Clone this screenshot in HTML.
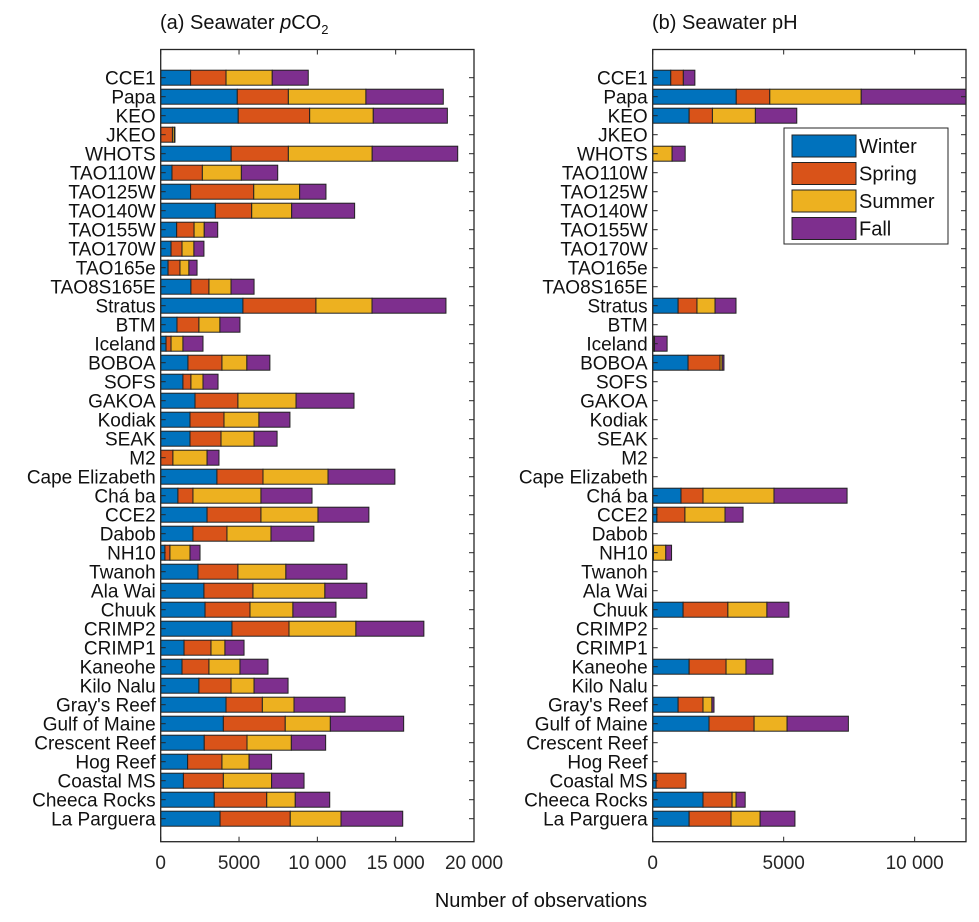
<!DOCTYPE html>
<html><head><meta charset="utf-8"><style>
body{margin:0;background:#fff;}
svg{display:block;font-family:"Liberation Sans",Arial,sans-serif;}
</style></head><body>
<svg id="chart" width="979" height="922" viewBox="0 0 979 922"></svg>
<script>
const categories=["CCE1","Papa","KEO","JKEO","WHOTS","TAO110W","TAO125W","TAO140W","TAO155W","TAO170W","TAO165e","TAO8S165E","Stratus","BTM","Iceland","BOBOA","SOFS","GAKOA","Kodiak","SEAK","M2","Cape Elizabeth","Chá ba","CCE2","Dabob","NH10","Twanoh","Ala Wai","Chuuk","CRIMP2","CRIMP1","Kaneohe","Kilo Nalu","Gray's Reef","Gulf of Maine","Crescent Reef","Hog Reef","Coastal MS","Cheeca Rocks","La Parguera"];
const seasons=["Winter","Spring","Summer","Fall"];
// cumulative ends (thousands) for pCO2
const pco2Cum=[[1.91,4.17,7.12,9.42],[4.89,8.15,13.1,18.04],[4.95,9.51,13.57,18.3],[0,0.75,0.87,0.91],[4.5,8.15,13.5,18.96],[0.72,2.66,5.15,7.47],[1.91,5.94,8.87,10.55],[3.49,5.81,8.36,12.38],[1.02,2.13,2.78,3.64],[0.66,1.36,2.12,2.76],[0.47,1.23,1.8,2.32],[1.93,3.08,4.49,5.96],[5.25,9.91,13.49,18.21],[1.04,2.44,3.78,5.06],[0.34,0.66,1.42,2.7],[1.74,3.91,5.5,6.97],[1.42,1.93,2.7,3.66],[2.19,4.93,8.64,12.34],[1.87,4.04,6.27,8.25],[1.87,3.85,5.96,7.43],[0,0.78,2.96,3.72],[3.59,6.53,10.68,14.95],[1.1,2.06,6.4,9.66],[2.96,6.4,10.04,13.29],[2.06,4.23,7.04,9.78],[0.27,0.59,1.87,2.51],[2.38,4.93,7.99,11.89],[2.76,5.89,10.48,13.16],[2.83,5.7,8.44,11.19],[4.55,8.19,12.46,16.8],[1.49,3.21,4.1,5.32],[1.36,3.08,5.06,6.85],[2.44,4.49,5.96,8.13],[4.17,6.49,8.51,11.77],[4.0,7.95,10.83,15.51],[2.78,5.51,8.34,10.53],[1.72,3.91,5.64,7.08],[1.45,4.0,7.08,9.15],[3.42,6.77,8.59,10.79],[3.79,8.27,11.51,15.45]];
const phCum=[[0.69,1.17,1.17,1.61],[3.19,4.47,7.96,12.3],[1.39,2.28,3.92,5.5],[0,0,0,0],[0,0,0.74,1.24],[0,0,0,0],[0,0,0,0],[0,0,0,0],[0,0,0,0],[0,0,0,0],[0,0,0,0],[0,0,0,0],[0.97,1.69,2.38,3.18],[0,0,0,0],[0,0.05,0.07,0.55],[1.35,2.57,2.65,2.72],[0,0,0,0],[0,0,0,0],[0,0,0,0],[0,0,0,0],[0,0,0,0],[0,0,0,0],[1.08,1.92,4.63,7.42],[0.16,1.23,2.76,3.45],[0,0,0,0],[0,0.03,0.5,0.72],[0,0,0,0],[0,0,0,0],[1.16,2.87,4.36,5.2],[0,0,0,0],[0,0,0,0],[1.39,2.8,3.56,4.59],[0,0,0,0],[0.97,1.92,2.26,2.34],[2.15,3.87,5.13,7.47],[0,0,0,0],[0,0,0,0],[0.13,1.27,1.27,1.27],[1.92,3.03,3.18,3.53],[1.39,2.99,4.1,5.43]];
const pco2Ticks=[0,5000,10000,15000,20000];
const pco2TickLabels=["0","5000","10 000","15 000","20 000"];
const phTicks=[0,5000,10000];
const phTickLabels=["0","5000","10 000"];
const colors=["#0072BD","#D95319","#EDB120","#7E2F8E"];
const NS="http://www.w3.org/2000/svg";
const svg=document.getElementById('chart');
function mk(tag,attrs,parent){const e=document.createElementNS(NS,tag);for(const k in attrs)e.setAttribute(k,attrs[k]);(parent||svg).appendChild(e);return e;}
const plotTop=49.5,plotBot=841.7,rowY0=77.7,rowStep=19.0,barH=15;
function yScale(i){return rowY0+i*rowStep;}
function panel(name,x0,x1,max,cum,ticks,tlabels){
  const g=mk('g',{});
  
  
  const xs=v=>x0+(v/max)*(x1-x0);
  const clip=mk('clipPath',{id:'c'+name},g);mk('rect',{x:x0,y:plotTop,width:x1-x0,height:plotBot-plotTop},clip);
  const bars=mk('g',{'clip-path':'url(#c'+name+')'},g);
  categories.forEach((c,i)=>{
    let prev=0;
    for(let s=0;s<4;s++){
      const v=cum[i][s]*1000;
      if(v>prev){
        const r=mk('rect',{x:xs(prev),y:yScale(i)-barH/2,width:xs(v)-xs(prev),height:barH,fill:colors[s],stroke:'#222','stroke-width':1},bars);
        
        
      }
      prev=Math.max(prev,v);
    }
    mk('line',{x1:x0,x2:x0+5,y1:yScale(i),y2:yScale(i),stroke:'#262626'},g);
    mk('line',{x1:x1,x2:x1-5,y1:yScale(i),y2:yScale(i),stroke:'#262626'},g);
    const t=mk('text',{x:x0-5,y:yScale(i)+7,'text-anchor':'end','font-size':19,fill:'#111'},g);
    t.textContent=c;
    
    
  });
  ticks.forEach((tv,k)=>{
    const x=xs(tv);
    mk('line',{x1:x,x2:x,y1:plotBot,y2:plotBot-5,stroke:'#262626'},g);
    mk('line',{x1:x,x2:x,y1:plotTop,y2:plotTop+5,stroke:'#262626'},g);
    const t=mk('text',{x:x,y:869,'text-anchor':'middle','font-size':19,fill:'#262626'},g);
    t.textContent=tlabels[k];
    
    
  });
  mk('rect',{x:x0,y:plotTop,width:x1-x0,height:plotBot-plotTop,fill:'none',stroke:'#262626','stroke-width':1.3},g);
}
panel('pco2-panel',160.7,474,20000,pco2Cum,pco2Ticks,pco2TickLabels);
panel('ph-panel',652.7,966,11960,phCum,phTicks,phTickLabels);

const t1=mk('text',{x:160,y:29,'font-size':20,fill:'#111'});


t1.innerHTML='(a) Seawater <tspan font-style="italic">p</tspan>CO<tspan font-size="13" dy="5">2</tspan>';
const t2=mk('text',{x:652,y:29,'font-size':20,fill:'#111'});


t2.textContent='(b) Seawater pH';
const xl=mk('text',{x:541,y:907,'text-anchor':'middle','font-size':20,fill:'#111'});


xl.textContent='Number of observations';
const lg=mk('g',{});


mk('rect',{x:784,y:128,width:164,height:116,fill:'#fff',stroke:'#262626','stroke-width':1},lg);
seasons.forEach((n,i)=>{
  const y=135+i*27.5;
  const e=mk('g',{},lg);
  
  
  mk('rect',{x:792,y:y,width:64,height:22,fill:colors[i],stroke:'#222'},e);
  const t=mk('text',{x:859,y:y+18,'font-size':20,fill:'#111'},e);t.textContent=n;
});
</script>
</body></html>
